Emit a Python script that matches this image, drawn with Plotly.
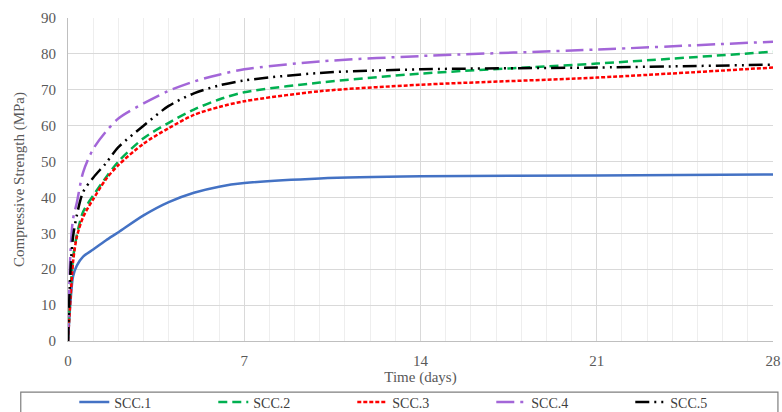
import plotly.graph_objects as go

days = [0, 0.1, 0.2, 0.35, 0.6, 1, 1.5, 2, 3, 4, 5, 6, 7, 10, 14, 21, 28]
scc1 = [0, 11, 18, 21, 23.5, 25.5, 28, 30.3, 35, 38.7, 41.3, 43, 44, 45.3, 45.9, 46.1, 46.4]
scc2 = [0, 14, 23, 29.5, 36, 40.5, 45.5, 50, 56.5, 60.8, 64.5, 67.3, 69.3, 72, 74.5, 77.3, 80.6]
scc3 = [0, 12, 22, 29, 34.5, 39.5, 45, 49, 55, 59.3, 63, 65.2, 66.8, 69.6, 71.4, 73.4, 76.2]
scc4 = [0, 25, 34, 38.5, 47, 53.5, 58.3, 62, 66.2, 69.7, 72.3, 74.2, 75.7, 77.9, 79.4, 81.2, 83.4]
scc5 = [0, 20, 29, 35, 41.5, 45.5, 49.5, 54, 60, 65.5, 69, 71.2, 72.6, 74.7, 75.7, 76.2, 77.0]

names = ["SCC.1", "SCC.2", "SCC.3", "SCC.4", "SCC.5"]
series = [scc1, scc2, scc3, scc4, scc5]
colors = ["#4472C4", "#00B050", "#FF0000", "#A366D8", "#000000"]
dashes = ["solid", "9px,5px", "4px,2px", "18px,6px,3px,6px", "14px,5px,2px,5px,2px,5px"]

SERIF = "Liberation Serif, Times New Roman, DejaVu Serif, serif"

fig = go.Figure()
for n, s, c, d in zip(names, series, colors, dashes):
    fig.add_trace(go.Scatter(x=days, y=s, name=n, mode="lines",
                             line=dict(color=c, width=2.5, dash=d, shape="spline", smoothing=0.8)))

fig.add_shape(type="rect", xref="paper", yref="paper",
              x0=-0.067, x1=1.007, y0=-0.158, y1=-0.26,
              line=dict(color="#7F7F7F", width=1.2), fillcolor="rgba(0,0,0,0)")

fig.update_layout(
    width=782, height=412,
    margin=dict(l=68, r=9, t=18, b=71),
    paper_bgcolor="white", plot_bgcolor="white",
    font=dict(family=SERIF, size=15, color="#595959"),
    showlegend=True,
    legend=dict(orientation="h", xref="container", yref="container",
                x=0.095, y=0.062, xanchor="left", yanchor="top",
                entrywidth=94, entrywidthmode="pixels",
                font=dict(family=SERIF, size=14, color="#404040"),
                bgcolor="rgba(0,0,0,0)", borderwidth=0, tracegroupgap=0,
                itemwidth=30),
    xaxis=dict(range=[0, 28], tickvals=[0, 7, 14, 21, 28], showgrid=True,
               gridcolor="#D9D9D9", gridwidth=1,
               minor=dict(dtick=1, tick0=0, showgrid=True, gridcolor="#EEEEEE", gridwidth=1),
               showline=True, linecolor="#BFBFBF", linewidth=1, zeroline=False,
               ticks="", ticklen=0, ticklabelstandoff=6, automargin=False,
               title=dict(text="Time (days)", standoff=7, font=dict(family=SERIF, size=15, color="#595959")),
               tickfont=dict(family=SERIF, size=15, color="#595959")),
    yaxis=dict(range=[0, 90], dtick=10, showgrid=True, gridcolor="#D9D9D9", gridwidth=1,
               showline=True, linecolor="#BFBFBF", linewidth=1, zeroline=False,
               ticks="", ticklabelstandoff=8, automargin=False,
               title=dict(text="Compressive Strength (MPa)", standoff=12, font=dict(family=SERIF, size=15, color="#595959")),
               tickfont=dict(family=SERIF, size=15, color="#595959")),
)

fig.write_html("out.html")
